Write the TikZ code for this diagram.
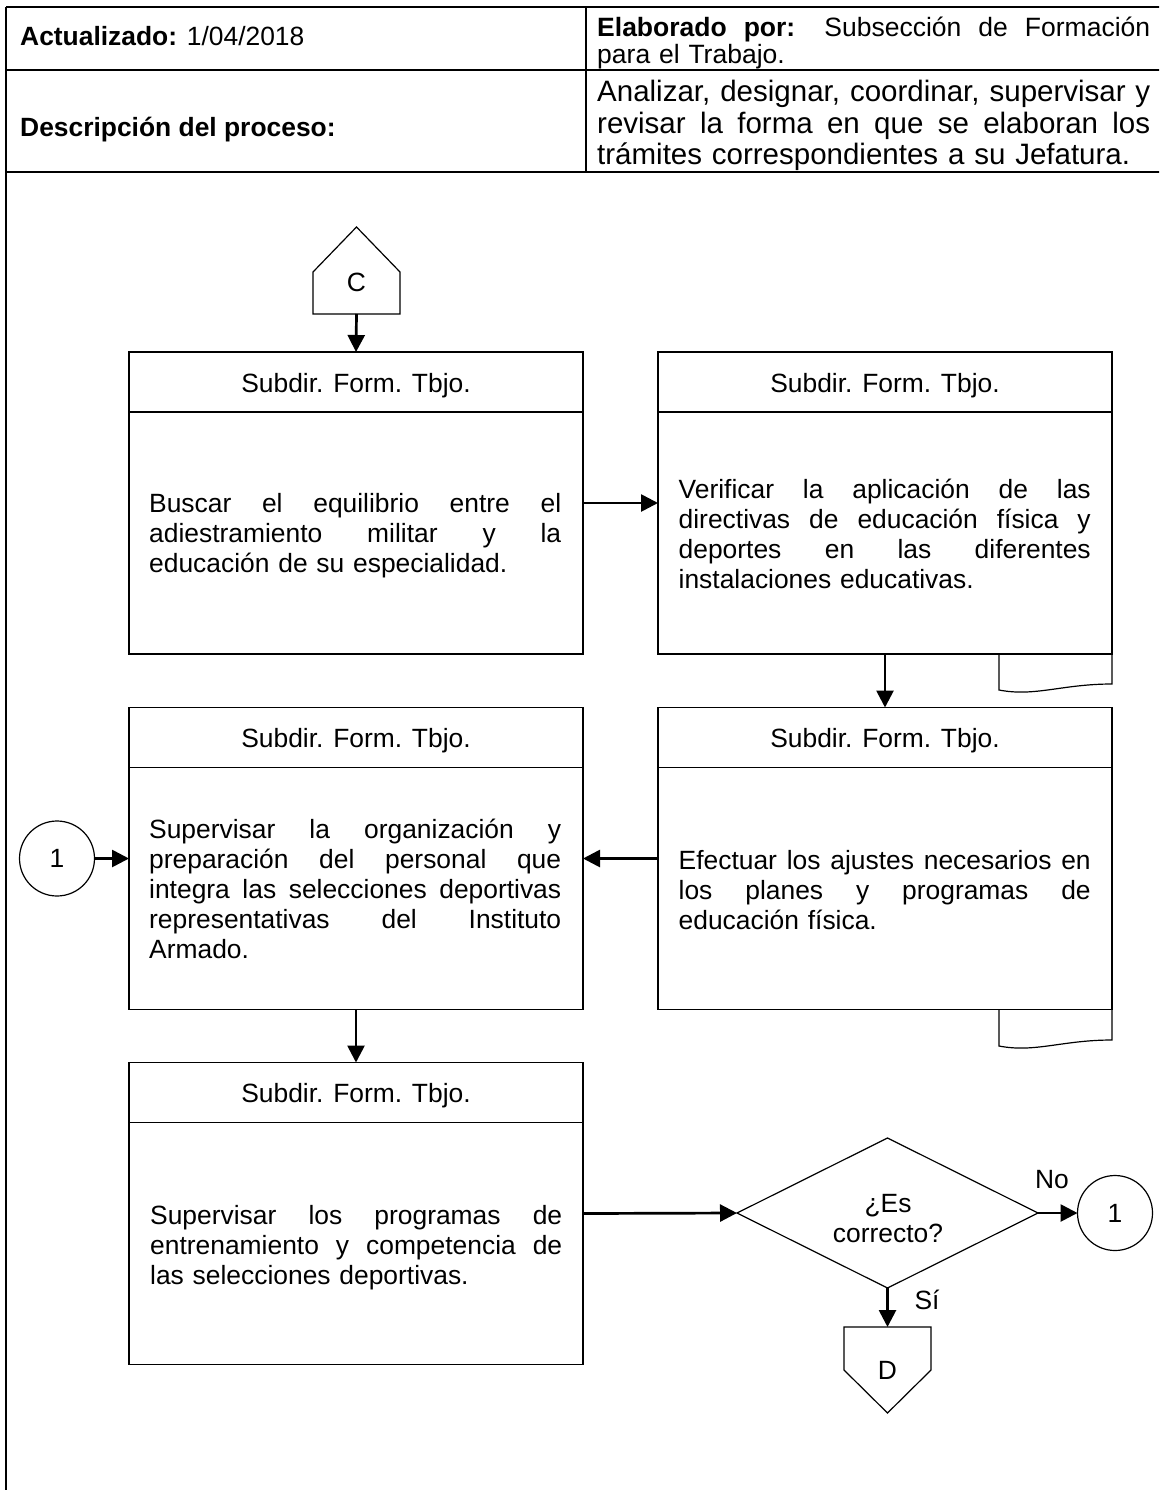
\documentclass[tikz,border=0pt]{standalone}
\usepackage{fontspec}
\setmainfont{Liberation Sans}
\usetikzlibrary{arrows.meta,shapes.geometric}
\newcommand\jl[1]{{\spaceskip=0pt\xspaceskip=0pt\makebox[\linewidth][s]{#1}}}
\tikzset{
  tline/.style={line width=1.3pt},
  pbox/.style={draw, line width=1.2pt, minimum width=454pt, minimum height=302pt, inner sep=0pt, outer sep=0pt},
  btext/.style={anchor=base west, inner sep=0pt, text width=412pt, font=\fontsize{26.4}{30}\selectfont},
  ttl/.style={anchor=base, inner sep=0pt, font=\fontsize{26.4}{30}\selectfont},
  lbl/.style={inner sep=0pt, font=\fontsize{26.4}{30}\selectfont},
  arr/.style={line width=2.7pt, -{Triangle[length=17pt,width=17pt]}},
  conn/.style={circle, draw, line width=1.2pt, minimum size=75pt, inner sep=0pt, outer sep=0pt, font=\fontsize{26.4}{30}\selectfont},
  shp/.style={draw, line width=1.2pt, line join=miter}
}
\begin{document}
\begin{tikzpicture}[x=1pt,y=-1pt]
\useasboundingbox (0,0) rectangle (1159,1490);
\clip (0,0) rectangle (1159,1490);
\fill[white] (0,0) rectangle (1159,1490);

% header table
\draw[tline] (6,7) -- (1165,7);
\draw[tline] (6,70) -- (1165,70);
\draw[tline] (6,172) -- (1165,172);
\draw[tline] (6,7) -- (6,1495);
\draw[tline] (586,7) -- (586,172);

\node[anchor=base west, inner sep=0pt, font=\fontsize{26.4}{30}\selectfont] (act) at (20,46) {\textbf{Actualizado:} 1/04/2018};
\node[anchor=base west, inner sep=0pt, font=\fontsize{26.4}{30}\selectfont] (desc) at (20,137) {\textbf{Descripción del proceso:}};
\node[anchor=base west, inner sep=0pt, text width=553pt, font=\fontsize{26.5}{27}\selectfont] (elab) at (597,37)
  {\jl{\textbf{Elaborado por:} Subsección de Formación}\\para el Trabajo.};
\node[anchor=base west, inner sep=0pt, text width=553pt, font=\fontsize{29.5}{31.5}\selectfont] (anal) at (597,102)
  {\jl{Analizar, designar, coordinar, supervisar y}\\\jl{revisar la forma en que se elaboran los}\\trámites correspondientes a su Jefatura.};

% off-page connector C
\draw[shp] (313,314) -- (313,272) -- (356.5,227) -- (400,272) -- (400,314) -- cycle;
\node[lbl] (Ctxt) at (356.5,282) {C};
\coordinate (Cbot) at (356.5,314);

% process boxes
\node[pbox] (b1) at (356,503) {};
\node[pbox] (b2) at (885,503) {};
\node[pbox] (b3) at (356,858.5) {};
\node[pbox] (b4) at (885,858.5) {};
\node[pbox] (b5) at (356,1213.5) {};
\foreach \b in {b1,b2,b3,b4,b5}{
  \draw[line width=1.2pt] ([yshift=-60pt]\b.north west) -- ([yshift=-60pt]\b.north east);
}
\node[ttl] (t1) at (356,392) {Subdir. Form. Tbjo.};
\node[ttl] (t2) at (885,392) {Subdir. Form. Tbjo.};
\node[ttl] (t3) at (356,747.5) {Subdir. Form. Tbjo.};
\node[ttl] (t4) at (885,747.5) {Subdir. Form. Tbjo.};
\node[ttl] (t5) at (356,1102.5) {Subdir. Form. Tbjo.};

\node[btext] (x1) at (149,512) {\jl{Buscar el equilibrio entre el}\\\jl{adiestramiento militar y la}\\educación de su especialidad.};
\node[btext] (x2) at (678.5,498.5) {\jl{Verificar la aplicación de las}\\\jl{directivas de educación física y}\\\jl{deportes en las diferentes}\\instalaciones educativas.};
\node[btext] (x3) at (149,838) {\jl{Supervisar la organización y}\\\jl{preparación del personal que}\\\jl{integra las selecciones deportivas}\\\jl{representativas del Instituto}\\Armado.};
\node[btext] (x4) at (678.5,869) {\jl{Efectuar los ajustes necesarios en}\\\jl{los planes y programas de}\\educación física.};
\node[btext] (x5) at (150,1224) {\jl{Supervisar los programas de}\\\jl{entrenamiento y competencia de}\\las selecciones deportivas.};

% document tabs
\draw[line width=1.2pt] (999,654) -- (999,690) .. controls (1035,697) and (1062,684) .. (1112,684) -- (1112,654);
\draw[line width=1.2pt] (999,1010) -- (999,1046) .. controls (1035,1053) and (1062,1040) .. (1112,1040) -- (1112,1010);

% connectors
\node[conn] (c1) at (57,858.5) {1};
\node[conn] (c2) at (1115,1213) {1};

% decision
\node[draw, diamond, line width=1.2pt, minimum width=301pt, minimum height=150pt, inner sep=0pt, outer sep=0pt] (dec) at (887.5,1213) {};
\node[anchor=base, inner sep=0pt, text width=160pt, align=center, font=\fontsize{26.4}{30}\selectfont] (dtxt) at (888,1212) {¿Es\\correcto?};
\node[lbl] (no) at (1052,1180) {No};
\node[lbl] (si) at (927,1300) {Sí};

% off-page connector D
\draw[shp] (844,1327) -- (931,1327) -- (931,1370) -- (887.5,1413) -- (844,1370) -- cycle;
\node[lbl] (Dtxt) at (887.5,1370) {D};
\coordinate (Dtop) at (887.5,1327);

% arrows
\draw[arr] (Cbot) -- (b1.north);
\draw[arr] (b1.east) -- (b2.west);
\draw[arr] (b2.south) -- (b4.north);
\draw[arr] (b4.west) -- (b3.east);
\draw[arr] (c1.east) -- (b3.west);
\draw[arr] (b3.south) -- (b5.north);
\draw[arr] (b5.east) -- (dec.west);
\draw[arr] (dec.east) -- (c2.west);
\draw[arr] (dec.south) -- (Dtop);
\end{tikzpicture}
\end{document}
